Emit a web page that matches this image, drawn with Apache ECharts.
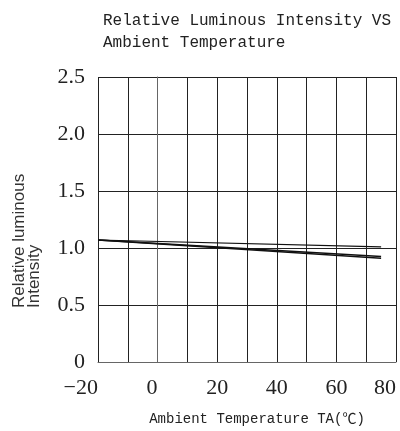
<!DOCTYPE html>
<html>
<head>
<meta charset="utf-8">
<script src="https://cdn.jsdelivr.net/npm/echarts@6/dist/echarts.min.js"></script>
<style>html,body{margin:0;padding:0;background:#fff;}#c{width:400px;height:431px;}</style>
</head>
<body>
<div id="c"></div>
<script>
// Data
var temps = [-20, 75];
var lineA = [1.07, 1.01];
var lineB = [1.07, 0.925];
var lineC = [1.07, 0.91];
var xTicks = [-20, 0, 20, 40, 60, 80];
var yTicks = [0, 0.5, 1.0, 1.5, 2.0, 2.5];

function pairs(xs, ys) { return xs.map(function (x, i) { return [x, ys[i]]; }); }

var chart = echarts.init(document.getElementById('c'), null, {renderer: 'canvas'});
var serif = '"Liberation Serif", "DejaVu Serif", serif';
var mono = '"Liberation Mono", "DejaVu Sans Mono", "Noto Sans CJK SC", monospace';

chart.setOption({
  animation: false,
  backgroundColor: '#fff',
  title: {
    text: 'Relative Luminous Intensity VS\nAmbient Temperature',
    left: 98,
    top: 5,
    textStyle: {fontFamily: mono, fontSize: 16, fontWeight: 'normal', color: '#222', lineHeight: 22}
  },
  grid: {left: 98, right: 4, top: 77, bottom: 68, containLabel: false},
  xAxis: {
    type: 'value', min: -20, max: 80, interval: 10,
    name: 'Ambient Temperature TA(℃)', nameLocation: 'middle', nameGap: 50,
    nameTextStyle: {fontFamily: mono, fontSize: 14, color: '#222', padding: [0, 0, 0, 20]},
    axisLine: {show: true, lineStyle: {color: '#666', width: 1}},
    axisTick: {show: false},
    splitLine: {show: true, lineStyle: {color: '#222', width: 1}},
    axisLabel: {
      margin: 15, fontFamily: serif, fontSize: 22, color: '#222',
      alignMinLabel: 'right', alignMaxLabel: 'right',
      formatter: function (v) {
        if (xTicks.indexOf(v) < 0) return '';
        if (v === 0) return '{z|0}';
        return v < 0 ? '\u2212' + Math.abs(v) : String(v);
      },
      rich: {z: {fontFamily: serif, fontSize: 22, color: '#222', padding: [0, 11, 0, 0]}}
    }
  },
  yAxis: {
    type: 'value', min: 0, max: 2.5, interval: 0.5,
    axisLine: {show: true, lineStyle: {color: '#666', width: 1}},
    axisTick: {show: false},
    splitLine: {show: true, lineStyle: {color: '#222', width: 1}},
    axisLabel: {
      margin: 13, fontFamily: serif, fontSize: 22, color: '#222',
      formatter: function (v) { return v === 0 ? '0' : v.toFixed(1); }
    }
  },
  graphic: [{
    type: 'text', x: 27, y: 308, rotation: Math.PI / 2,
    style: {
      text: 'Relative luminous\nIntensity',
      font: '17px "Liberation Sans", Arial, sans-serif',
      fill: '#333', align: 'left', verticalAlign: 'middle', lineHeight: 15
    }
  }],
  series: [
    {type: 'line', data: pairs(temps, lineA), symbol: 'none', lineStyle: {color: '#111', width: 1.2}},
    {type: 'line', data: pairs(temps, lineB), symbol: 'none', lineStyle: {color: '#111', width: 1.6}},
    {type: 'line', data: pairs(temps, lineC), symbol: 'none', lineStyle: {color: '#111', width: 1.6}}
  ]
});
</script>
</body>
</html>
